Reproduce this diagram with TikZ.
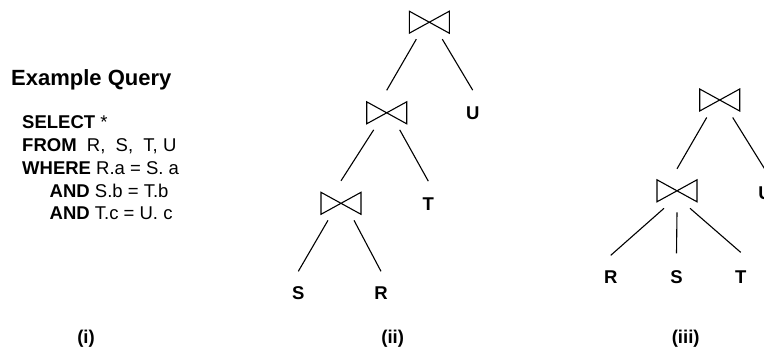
\documentclass[tikz,border=0pt]{standalone}
\usepackage{fontspec}
\setmainfont{Liberation Sans}
\begin{document}
\begin{tikzpicture}[x=1pt,y=-1pt,
  bowtie/.style={minimum width=40pt, minimum height=22pt, inner sep=0pt, outer sep=0pt},
  bowline/.style={line width=1.1pt, line join=miter},
  rel/.style={font=\fontsize{18.5}{22}\selectfont\bfseries, inner sep=0pt, text height=13.3pt, text depth=0pt},
  sql/.style={font=\fontsize{18.5}{22}\selectfont, inner sep=0pt, anchor=base west},
  heading/.style={font=\fontsize{22}{26}\selectfont\bfseries, inner sep=0pt, anchor=base west},
  caption/.style={font=\fontsize{18.5}{22}\selectfont\bfseries, inner sep=0pt, anchor=base},
  conn/.style={line width=1.1pt}]
\useasboundingbox (0,0) rectangle (764,349);

% query text
\node[heading] (title) at (11,85) {Example Query};
\node[sql] (q1) at (22,128)   {\textbf{SELECT} *};
\node[sql] (q2) at (22,151)   {\textbf{FROM}~~R,~~S,~~T,~U};
\node[sql] (q3) at (22,174)   {\textbf{WHERE} R.a = S. a};
\node[sql] (q4) at (49.5,197) {\textbf{AND} S.b = T.b};
\node[sql] (q5) at (49.5,219.5) {\textbf{AND} T.c = U. c};

% left-deep plan
\node[bowtie] (a1) at (429.3,22.2) {};
\node[bowtie] (a2) at (386.7,112.8) {};
\node[bowtie] (a3) at (341,203.3) {};
\node[rel] (aU) at (472.7,113) {U};
\node[rel] (aT) at (428.3,204) {T};
\node[rel] (aS) at (298.3,292.7) {S};
\node[rel] (aR) at (381,292.7) {R};

% plan with a three-way join
\node[bowtie] (b1) at (719.7,100) {};
\node[bowtie] (b2) at (677,190.8) {};
\node[rel] (bU) at (765,193.3) {U};
\node[rel] (bR) at (610.7,276.7) {R};
\node[rel] (bS) at (676.5,276.7) {S};
\node[rel] (bT) at (740.7,276.7) {T};

% join symbols
\foreach \n in {a1,a2,a3,b1,b2}
  \draw[bowline] (\n.north west) -- (\n.south east) -- (\n.north east) -- (\n.south west) -- cycle;

% edges
\draw[conn] ([shift={(-13pt,-6pt)}]a1.south) -- ([yshift=11.5pt]a2.north);
\draw[conn] ([shift={(13pt,-6pt)}]a1.south) -- ([yshift=16pt]aU.north);
\draw[conn] ([shift={(-13pt,-6pt)}]a2.south) -- ([yshift=11.5pt]a3.north);
\draw[conn] ([shift={(13pt,-6pt)}]a2.south) -- ([yshift=16pt]aT.north);
\draw[conn] ([shift={(-13pt,-6pt)}]a3.south) -- ([yshift=14.5pt]aS.north);
\draw[conn] ([shift={(13pt,-6pt)}]a3.south) -- ([yshift=14.5pt]aR.north);

\draw[conn] ([shift={(-13pt,-6.5pt)}]b1.south) -- ([yshift=11pt]b2.north);
\draw[conn] ([shift={(13pt,-6.5pt)}]b1.south) -- ([yshift=17pt]bU.north);
\draw[conn] ([shift={(-13pt,-6.5pt)}]b2.south) -- ([yshift=14.5pt]bR.north);
\draw[conn] ([yshift=-10.5pt]b2.south) -- ([yshift=16.5pt]bS.north);
\draw[conn] ([shift={(13pt,-6.5pt)}]b2.south) -- ([yshift=17.5pt]bT.north);

% captions
\node[caption] (c1) at (86,343) {(i)};
\node[caption] (c2) at (392.7,343) {(ii)};
\node[caption] (c3) at (685.7,343) {(iii)};
\end{tikzpicture}
\end{document}
